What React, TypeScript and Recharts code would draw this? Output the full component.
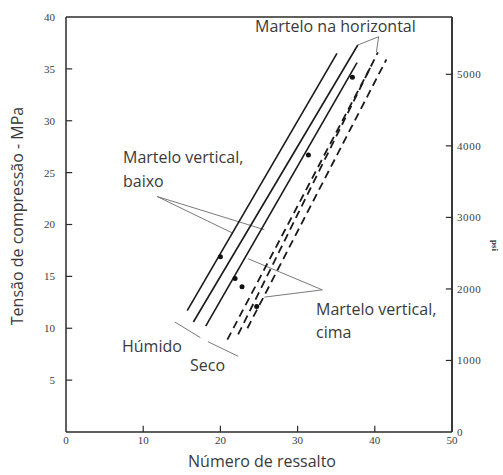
import React from "react";
import { LineChart, Line, XAxis, YAxis, ReferenceLine, ReferenceDot } from "recharts";

// rebound number vs compressive strength (MPa), one array per hammer position / condition
const horizontalWet = [{ x: 15.7, y: 11.7 }, { x: 35.1, y: 36.5 }];
const verticalDownWet = [{ x: 16.5, y: 10.6 }, { x: 37.8, y: 37.3 }];
const verticalUpWet = [{ x: 18.1, y: 10.2 }, { x: 37.7, y: 35.6 }];
const horizontalDry = [{ x: 20.9, y: 8.9 }, { x: 39.4, y: 35.1 }];
const verticalDownDry = [{ x: 22.3, y: 9.4 }, { x: 40.4, y: 36.6 }];
const verticalUpDry = [{ x: 23.5, y: 10.0 }, { x: 41.5, y: 35.9 }];

const markerPoints = [
  { x: 20.0, y: 16.9 },
  { x: 21.9, y: 14.8 },
  { x: 22.8, y: 14.0 },
  { x: 24.7, y: 12.1 },
  { x: 37.1, y: 34.2 },
  { x: 31.4, y: 26.7 },
];

// leader lines from the annotations, [from, to] in chart units
const leaders = [
  [{ x: 40.5, y: 38.1 }, { x: 37.8, y: 37.3 }],
  [{ x: 40.5, y: 38.1 }, { x: 40.2, y: 36.6 }],
  [{ x: 11.8, y: 22.7 }, { x: 21.5, y: 19.2 }],
  [{ x: 11.8, y: 22.7 }, { x: 25.7, y: 19.5 }],
  [{ x: 33.2, y: 13.7 }, { x: 23.6, y: 16.7 }],
  [{ x: 33.2, y: 13.7 }, { x: 25.7, y: 13.0 }],
  [{ x: 14.1, y: 10.6 }, { x: 17.4, y: 9.1 }],
  [{ x: 18.4, y: 8.7 }, { x: 22.3, y: 7.3 }],
];

const xTicks = [0, 10, 20, 30, 40, 50];
const mpaTicks = [5, 10, 15, 20, 25, 30, 35, 40];
const psiTicks = [0, 1000, 2000, 3000, 4000, 5000];
const PSI_MAX = 5801.6;

const frameColor = "#2b2b2b";
const tickStyle = { fontFamily: "Liberation Serif", fontSize: 11, fill: "#3c3c3c" };

// box around the plot plus short inward tick marks, all in chart units
const frameSegments = [
  [{ x: 0, y: 40 }, { x: 50, y: 40 }],
  [{ x: 50, y: 0 }, { x: 50, y: 40 }],
];
const leftTickSegments = mpaTicks.filter((v) => v < 40).map((v) => [{ x: 0, y: v }, { x: 0.8, y: v }]);
const bottomTickSegments = xTicks.filter((v) => v > 0 && v < 50).map((v) => [{ x: v, y: 0 }, { x: v, y: 0.6 }]);
const rightTickSegments = psiTicks.filter((v) => v > 0).map((v) => [{ x: 49.2, y: v }, { x: 50, y: v }]);

function Note({ x, y, children, center, rotate }: any) {
  return (
    <div
      style={{
        position: "absolute",
        left: x,
        top: y - 9,
        fontFamily: "'Open Sans', sans-serif",
        fontSize: 16,
        lineHeight: 1,
        color: "#3a3a3a",
        whiteSpace: "nowrap",
        transform: center ? `translateX(-50%)${rotate ? " rotate(-90deg)" : ""}` : undefined,
        transformOrigin: "50% 9px",
      }}
    >
      {children}
    </div>
  );
}

export default function App() {
  return (
    <div style={{ position: "absolute", left: 0, top: 0, width: 503, height: 475, background: "#fff" }}>
      <LineChart width={503} height={475} margin={{ top: 17, right: 6, bottom: 13, left: 26 }}>
        <XAxis dataKey="x" type="number" domain={[0, 50]} ticks={xTicks} interval={0} height={30} tickSize={0} tickMargin={4} tick={tickStyle} axisLine={{ stroke: frameColor, strokeWidth: 1.5 }} tickLine={false} />
        <YAxis yAxisId="mpa" type="number" domain={[0, 40]} ticks={mpaTicks} interval={0} width={40} tickSize={0} tickMargin={11} tick={tickStyle} axisLine={{ stroke: frameColor, strokeWidth: 1.5 }} tickLine={false} />
        <YAxis yAxisId="psi" orientation="right" type="number" domain={[0, PSI_MAX]} allowDataOverflow ticks={psiTicks} interval={0} width={45} tickSize={0} tickMargin={5} tick={{ ...tickStyle, letterSpacing: 0.6 }} axisLine={{ stroke: frameColor, strokeWidth: 1.5 }} tickLine={false} />

        {frameSegments.map((seg, i) => (
          <ReferenceLine key={"f" + i} yAxisId="mpa" segment={seg} stroke={frameColor} strokeWidth={1.5} ifOverflow="visible" />
        ))}
        {leftTickSegments.map((seg, i) => (
          <ReferenceLine key={"lt" + i} yAxisId="mpa" segment={seg} stroke={frameColor} strokeWidth={1.2} ifOverflow="visible" />
        ))}
        {bottomTickSegments.map((seg, i) => (
          <ReferenceLine key={"bt" + i} yAxisId="mpa" segment={seg} stroke={frameColor} strokeWidth={1.2} ifOverflow="visible" />
        ))}
        {rightTickSegments.map((seg, i) => (
          <ReferenceLine key={"rt" + i} yAxisId="psi" segment={seg} stroke={frameColor} strokeWidth={1.2} ifOverflow="visible" />
        ))}
        {leaders.map((seg, i) => (
          <ReferenceLine key={"ld" + i} yAxisId="mpa" segment={seg} stroke="#7a7a7a" strokeWidth={1} ifOverflow="visible" />
        ))}

        <Line yAxisId="mpa" data={horizontalWet} dataKey="y" stroke="#1a1a1a" strokeWidth={1.6} dot={false} isAnimationActive={false} />
        <Line yAxisId="mpa" data={verticalDownWet} dataKey="y" stroke="#1a1a1a" strokeWidth={1.6} dot={false} isAnimationActive={false} />
        <Line yAxisId="mpa" data={verticalUpWet} dataKey="y" stroke="#1a1a1a" strokeWidth={1.6} dot={false} isAnimationActive={false} />
        <Line yAxisId="mpa" data={horizontalDry} dataKey="y" stroke="#1a1a1a" strokeWidth={1.8} strokeDasharray="8 5" dot={false} isAnimationActive={false} />
        <Line yAxisId="mpa" data={verticalDownDry} dataKey="y" stroke="#1a1a1a" strokeWidth={1.8} strokeDasharray="8 5" dot={false} isAnimationActive={false} />
        <Line yAxisId="mpa" data={verticalUpDry} dataKey="y" stroke="#1a1a1a" strokeWidth={1.8} strokeDasharray="8 5" dot={false} isAnimationActive={false} />
        {markerPoints.map((p, i) => (
          <ReferenceDot key={"m" + i} yAxisId="mpa" x={p.x} y={p.y} r={2.5} fill="#111" stroke="none" />
        ))}
      </LineChart>

      <Note x={255} y={27}>Martelo na horizontal</Note>
      <Note x={123} y={158}>Martelo vertical,</Note>
      <Note x={123} y={182}>baixo</Note>
      <Note x={316} y={310}>Martelo vertical,</Note>
      <Note x={316} y={333}>cima</Note>
      <Note x={122} y={347}>Húmido</Note>
      <Note x={190} y={366}>Seco</Note>
      <Note x={262} y={462} center>Número de ressalto</Note>
      <Note x={18} y={216} center rotate>Tensão de compressão - MPa</Note>
      <div
        style={{
          position: "absolute",
          left: 489,
          top: 241,
          fontFamily: "'Liberation Serif', serif",
          fontSize: 9,
          fontWeight: "bold",
          lineHeight: 1,
          color: "#333",
          transform: "rotate(90deg)",
        }}
      >
        psi
      </div>
    </div>
  );
}
